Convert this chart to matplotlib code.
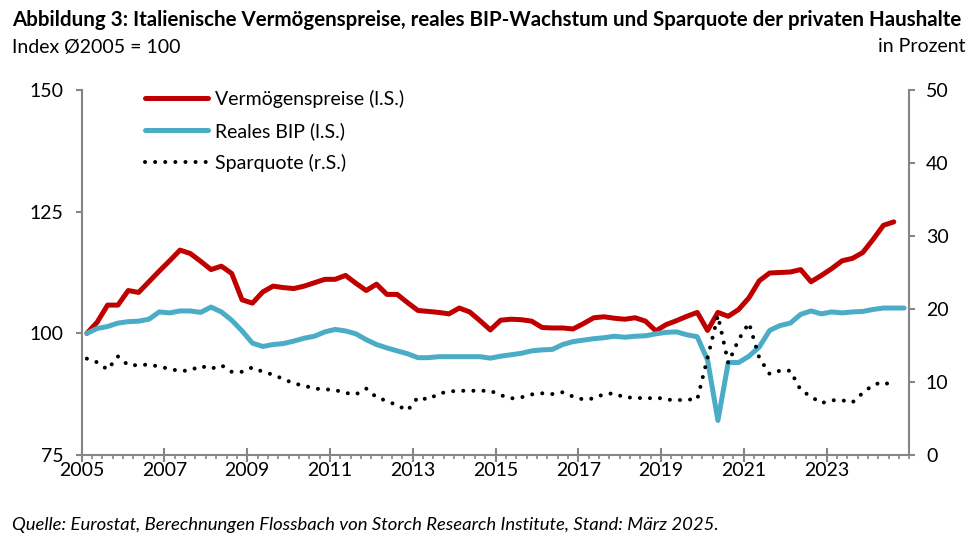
import matplotlib
matplotlib.use('Agg')
import matplotlib.pyplot as plt
import numpy as np

plt.rcParams['font.family'] = ['Lato', 'DejaVu Sans']

# quarterly data, 2005Q1 ...
years = [2005, 2007, 2009, 2011, 2013, 2015, 2017, 2019, 2021, 2023]

vermoegen = [100.0, 102.3, 105.8, 105.8, 108.8, 108.4, 110.6, 112.8, 114.9, 117.1,
             116.4, 114.8, 113.1, 113.8, 112.3, 106.9, 106.2, 108.5, 109.7, 109.4,
             109.2, 109.7, 110.4, 111.1, 111.1, 111.9, 110.3, 108.8, 110.1, 108.0,
             108.0, 106.3, 104.7, 104.5, 104.3, 104.0, 105.2, 104.4, 102.6, 100.7,
             102.7, 102.9, 102.8, 102.5, 101.2, 101.1, 101.1, 100.9, 102.0, 103.2,
             103.4, 103.1, 102.9, 103.2, 102.5, 100.5, 101.8, 102.6, 103.5, 104.3,
             100.6, 104.3, 103.5, 104.9, 107.3, 110.8, 112.4, 112.5, 112.6, 113.1,
             110.6, 111.9, 113.3, 114.9, 115.4, 116.6, 119.3, 122.2, 122.9]

bip = [100.0, 101.0, 101.4, 102.1, 102.4, 102.5, 102.9, 104.4, 104.2, 104.6,
       104.6, 104.3, 105.4, 104.4, 102.7, 100.5, 98.0, 97.3, 97.7, 97.9,
       98.4, 99.0, 99.4, 100.3, 100.8, 100.5, 99.9, 98.7, 97.7, 97.0,
       96.4, 95.8, 95.0, 95.0, 95.2, 95.2, 95.2, 95.2, 95.2, 94.9,
       95.3, 95.6, 95.9, 96.4, 96.6, 96.7, 97.7, 98.3, 98.6, 98.9,
       99.1, 99.4, 99.2, 99.4, 99.5, 99.9, 100.2, 100.3, 99.7, 99.3,
       94.5, 82.1, 94.0, 94.0, 95.3, 97.2, 100.6, 101.6, 102.1, 103.9,
       104.6, 104.0, 104.4, 104.2, 104.4, 104.5, 104.9, 105.2, 105.2, 105.2]

sparquote = [13.2, 12.7, 11.7, 13.5, 12.3, 12.3, 12.4, 12.1, 11.8, 11.5,
             11.6, 12.2, 11.8, 12.3, 11.4, 11.4, 12.0, 11.4, 11.0, 10.4,
             9.8, 9.5, 9.1, 9.0, 8.9, 8.5, 8.3, 9.1, 7.9, 7.4,
             6.8, 6.1, 7.9, 7.6, 8.4, 8.7, 8.8, 8.8, 8.8, 8.8,
             8.2, 7.75, 7.9, 8.3, 8.45, 8.35, 8.6, 8.0, 7.6, 7.75,
             8.35, 8.45, 7.85, 7.9, 7.7, 7.9, 7.6, 7.5, 7.6, 7.6,
             13.3, 19.1, 12.6, 15.8, 18.1, 13.3, 11.1, 11.55, 11.55, 8.9,
             8.0, 7.1, 7.5, 7.5, 7.2, 8.5, 9.6, 10.0, 9.4]

RED = '#C00000'
BLUE = '#4BACC6'
GREY = '#868686'
FS = 14

fig = plt.figure(figsize=(9.72, 5.48), dpi=100)
ax = fig.add_axes([81.7 / 972, 93 / 548, 827.6 / 972, 365 / 548])
ax2 = ax.twinx()

l1, = ax.plot(np.arange(len(vermoegen)), vermoegen, color=RED, lw=3.6,
              solid_joinstyle='round', solid_capstyle='round', label='Vermögenspreise (l.S.)')
l2, = ax.plot(np.arange(len(bip)), bip, color=BLUE, lw=3.6,
              solid_joinstyle='round', solid_capstyle='round', label='Reales BIP (l.S.)')
l3, = ax2.plot(np.arange(len(sparquote)), sparquote, color='black', lw=2.9,
               linestyle=(0, (0.01, 2.5)), dash_capstyle='round', label='Sparquote (r.S.)')

ax.set_xlim(-0.5, 79.5)
ax.set_ylim(75, 150)
ax2.set_ylim(0, 50)
ax.set_yticks([75, 100, 125, 150])
ax2.set_yticks([0, 10, 20, 30, 40, 50])

ax.set_xticks([-0.5 + 8 * k for k in range(len(years))])
ax.set_xticklabels([str(y) for y in years])
ax.set_xticks(np.arange(-0.5, 80, 1), minor=True)

for a in (ax, ax2):
    for s in a.spines.values():
        s.set_color(GREY)
        s.set_linewidth(1.5)
    a.spines['top'].set_visible(False)
ax.spines['right'].set_visible(False)
ax2.spines['left'].set_visible(False)
ax2.spines['bottom'].set_visible(False)

ax.tick_params(axis='x', which='major', direction='inout', length=9.5, width=1.5,
               color=GREY, labelsize=FS, pad=0)
ax.tick_params(axis='x', which='minor', direction='out', length=3, width=1.2, color=GREY)
ax.tick_params(axis='y', direction='out', length=4, width=1.5, color=GREY,
               labelsize=FS, pad=9)
ax2.tick_params(axis='y', direction='out', length=4, width=1.5, color=GREY,
                labelsize=FS, pad=8)

leg = ax.legend(handles=[l1, l2, l3], loc='upper left',
                bbox_to_anchor=(145 / 972, 1 - 90 / 548), bbox_transform=fig.transFigure,
                frameon=False, fontsize=FS, handlelength=3.25, handletextpad=0.36,
                labelspacing=0.72, borderpad=0, borderaxespad=0)

fig.text(12 / 972, 1 - 20 / 548,
         'Abbildung 3: Italienische Vermögenspreise, reales BIP-Wachstum und Sparquote der privaten Haushalte',
         fontsize=14.8, fontweight='bold', va='center', ha='left')
fig.text(12 / 972, 1 - 47 / 548, 'Index Ø2005 = 100', fontsize=FS, va='center', ha='left')
fig.text(965 / 972, 1 - 47 / 548, 'in Prozent', fontsize=FS, va='center', ha='right')
fig.text(12 / 972, 1 - 525 / 548,
         'Quelle: Eurostat, Berechnungen Flossbach von Storch Research Institute, Stand: März 2025.',
         fontsize=13.3, style='italic', va='center', ha='left')

fig.savefig('out.png', dpi=100)
